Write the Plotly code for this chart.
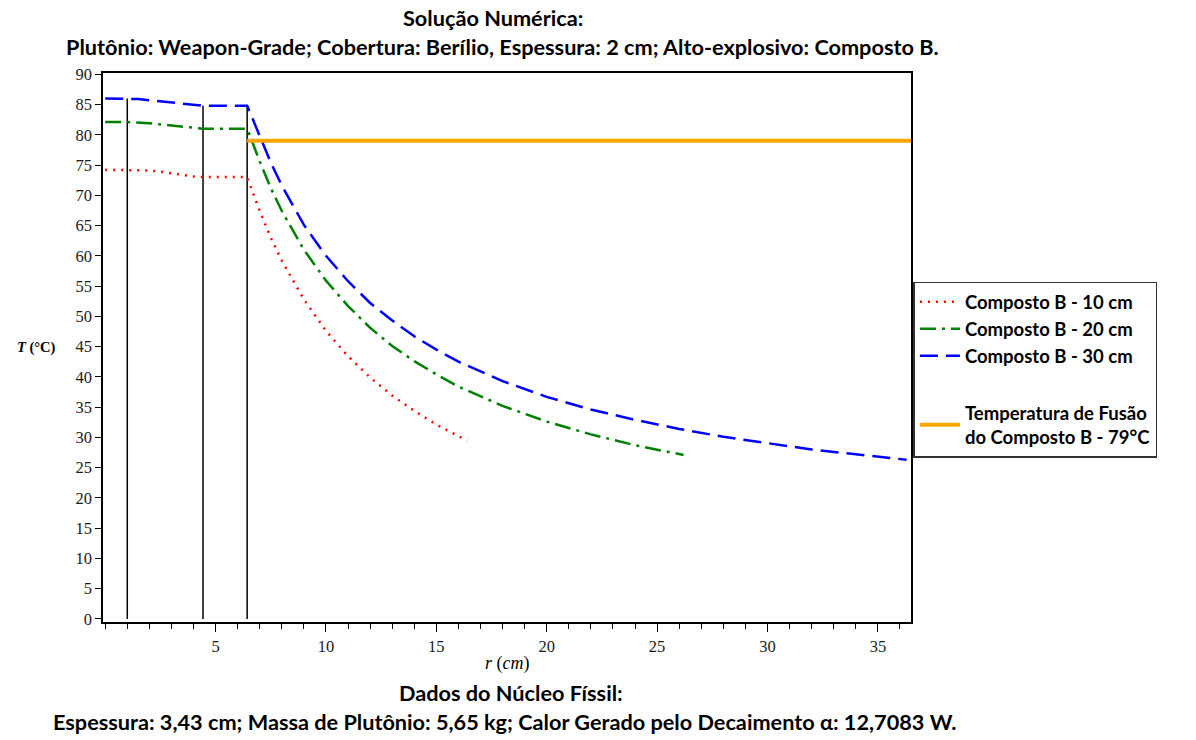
import plotly.graph_objects as go

# ---- data ----
r_10 = [0, 1, 2, 2.5, 3, 3.5, 4, 4.43, 5.5, 6.43, 7, 7.5, 8, 9, 10, 11, 12, 13, 14, 15, 16, 16.4]
T_10 = [74.2, 74.2, 74.1, 73.9, 73.6, 73.3, 73.1, 73.0, 73.0, 73.0, 67.4, 63.0, 59.2, 52.8, 47.6,
        43.4, 39.9, 36.9, 34.4, 32.1, 30.2, 29.5]

r_20 = [0, 1, 2, 2.5, 3, 3.5, 4, 4.43, 5.5, 6.43, 7, 7.5, 8, 9, 10, 11, 12, 13, 14, 15, 16, 18,
        20, 22, 24, 26.2]
T_20 = [82.1, 82.1, 81.9, 81.7, 81.5, 81.3, 81.1, 81.0, 81.0, 81.0, 75.6, 71.2, 67.4, 61.0, 55.9,
        51.7, 48.1, 45.1, 42.6, 40.4, 38.4, 35.2, 32.6, 30.5, 28.7, 27.1]

r_30 = [0, 1, 1.5, 2, 2.5, 3, 3.5, 4, 4.43, 5.5, 6.43, 7, 7.5, 8, 9, 10, 11, 12, 13, 14, 15, 16,
        18, 20, 22, 24, 26, 28, 30, 32, 34, 36.3]
T_30 = [86.0, 86.0, 85.9, 85.7, 85.5, 85.3, 85.1, 84.9, 84.8, 84.8, 84.8, 79.8, 75.4, 71.6, 65.1,
        60.0, 55.8, 52.2, 49.3, 46.7, 44.5, 42.5, 39.3, 36.7, 34.6, 32.9, 31.4, 30.1, 29.0, 28.0,
        27.2, 26.3]

melt_r = [6.43, 36.5]
melt_T = [79, 79]

boundary_r = [1.0, 4.43, 6.43]
boundary_top = [86.0, 84.8, 84.8]

x_ticks = [5, 10, 15, 20, 25, 30, 35]
y_ticks = list(range(0, 91, 5))

names = ["Composto B - 10 cm", "Composto B - 20 cm", "Composto B - 30 cm",
         "Temperatura de Fusão<br>do Composto B - 79°C"]

title_1 = "Solução Numérica:"
title_2 = "Plutônio: Weapon-Grade; Cobertura: Berílio, Espessura: 2 cm; Alto-explosivo: Composto B."
foot_1 = "Dados do Núcleo Físsil:"
foot_2 = "Espessura: 3,43 cm; Massa de Plutônio: 5,65 kg; Calor Gerado pelo Decaimento α: 12,7083 W."

fig = go.Figure()

# boundary vertical lines
for rb, tb in zip(boundary_r, boundary_top):
    fig.add_trace(go.Scatter(x=[rb, rb], y=[0, tb], mode="lines",
                             line=dict(color="black", width=1.5),
                             showlegend=False, hoverinfo="skip"))

fig.add_trace(go.Scatter(x=r_10, y=T_10, mode="lines", name=names[0], legendgroup="a",
                         line=dict(color="#ff0000", width=2.5, dash="2px,6px")))
fig.add_trace(go.Scatter(x=r_20, y=T_20, mode="lines", name=names[1], legendgroup="a",
                         line=dict(color="#008000", width=2.5, dash="16px,6px,3px,6px")))
fig.add_trace(go.Scatter(x=r_30, y=T_30, mode="lines", name=names[2], legendgroup="a",
                         line=dict(color="#0000ff", width=2.5, dash="18px,8px")))
fig.add_trace(go.Scatter(x=melt_r, y=melt_T, mode="lines", name=names[3], legendgroup="b",
                         line=dict(color="#FFA500", width=4)))

big = dict(family="Lato", size=21.7, color="black", weight="bold")
leg = dict(family="Lato", size=18.5, color="black", weight="bold")
serif = dict(family="Liberation Serif", size=16.5, color="#1a1a1a")

fig.update_layout(
    width=1196, height=740,
    margin=dict(l=103, r=285, t=73, b=118),
    plot_bgcolor="white", paper_bgcolor="white",
    showlegend=True,
    legend=dict(x=1.003, y=0.62, xanchor="left", yanchor="top",
                bordercolor="#333", borderwidth=1.5, bgcolor="white",
                font=leg, traceorder="grouped", tracegroupgap=30,
                itemwidth=40, entrywidth=215, entrywidthmode="pixels"),
    xaxis=dict(range=[-0.1, 36.5], tickvals=x_ticks, ticks="outside", ticklen=8,
               tickcolor="black", tickwidth=1.2, showline=True, linecolor="black",
               linewidth=1.5, mirror=True, showgrid=False, zeroline=False,
               tickfont=serif,
               minor=dict(dtick=1, tick0=0, ticks="outside", ticklen=5,
                          tickcolor="black", tickwidth=1.2, showgrid=False)),
    yaxis=dict(range=[-0.5, 90.2], tickvals=y_ticks, ticks="outside", ticklen=6,
               tickcolor="black", tickwidth=1.2, showline=True, linecolor="black",
               linewidth=1.5, mirror=True, showgrid=False, zeroline=False,
               tickfont=serif),
    annotations=[
        dict(text=title_1, xref="paper", yref="paper", x=0.483, y=1.100,
             xanchor="center", yanchor="middle", showarrow=False, font=big),
        dict(text=title_2, xref="paper", yref="paper", x=0.495, y=1.047,
             xanchor="center", yanchor="middle", showarrow=False, font=big),
        dict(text="<i>T</i> (°C)", xref="paper", yref="paper", x=-0.056, y=0.5,
             xanchor="right", yanchor="middle", showarrow=False,
             font=dict(family="Liberation Serif", size=14.5, color="black", weight="bold")),
        dict(text="<i>r</i> (<i>cm</i>)", xref="paper", yref="paper", x=0.50, y=-0.0747,
             xanchor="center", yanchor="middle", showarrow=False,
             font=dict(family="Liberation Serif", size=18, color="black")),
        dict(text=foot_1, xref="paper", yref="paper", x=0.505, y=-0.129,
             xanchor="center", yanchor="middle", showarrow=False, font=big),
        dict(text=foot_2, xref="paper", yref="paper", x=0.498, y=-0.182,
             xanchor="center", yanchor="middle", showarrow=False, font=big),
    ],
)

fig.write_html("out.html")
